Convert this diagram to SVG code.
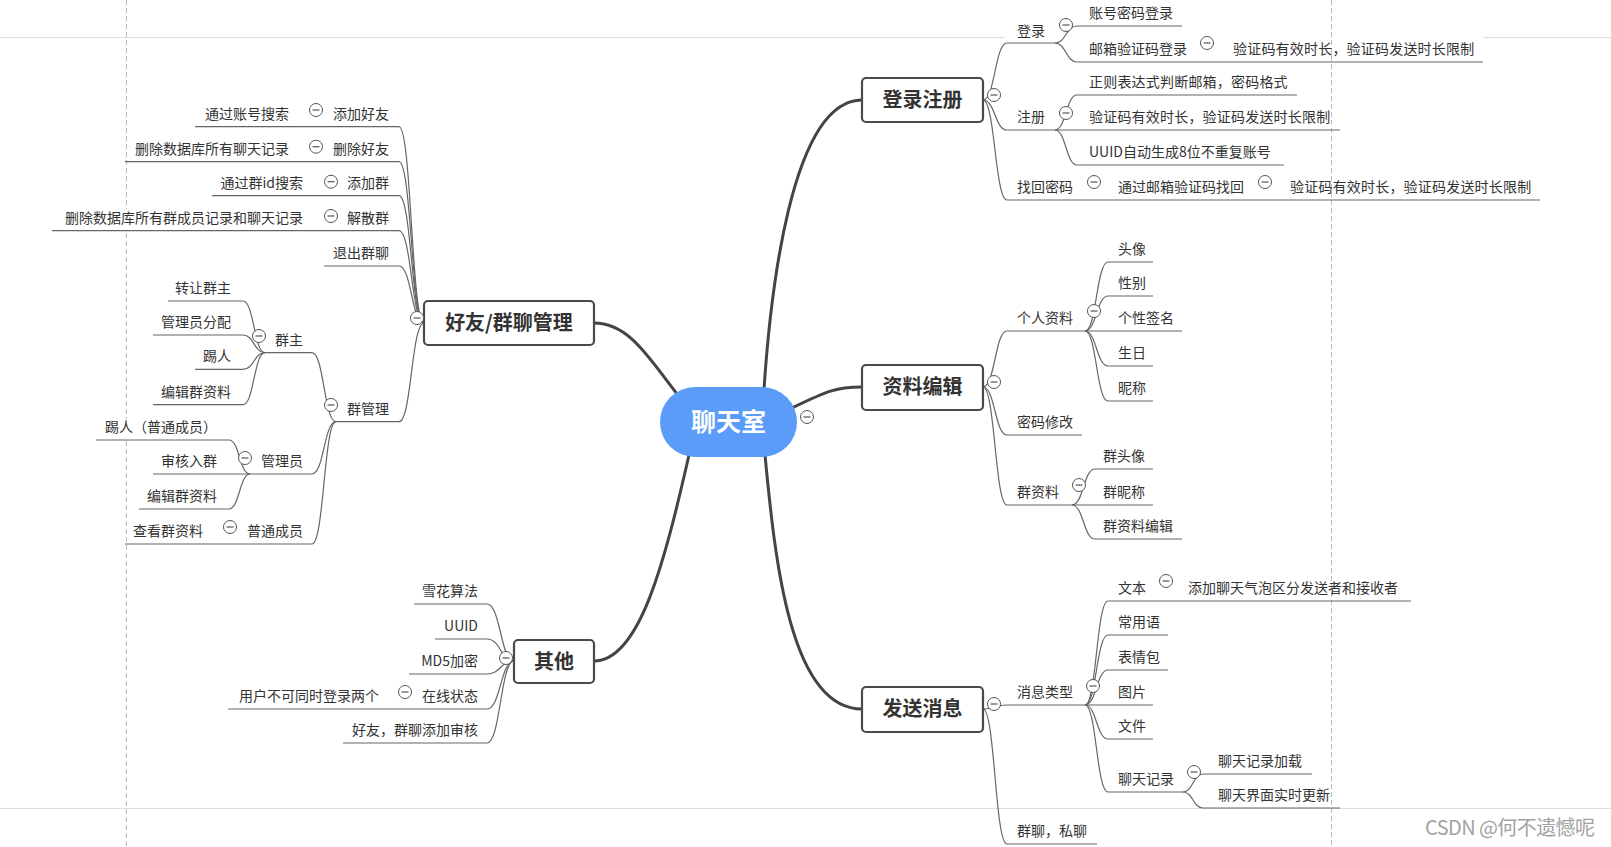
<svg xmlns="http://www.w3.org/2000/svg" width="1611" height="847" viewBox="0 0 1611 847">
<defs>
<style>
.t{font-family:"Noto Sans CJK SC","Noto Sans",sans-serif;font-size:14px;fill:#333}
.e{text-anchor:end}
.w{letter-spacing:0.2px}
.b{font-family:"Noto Sans CJK SC","Noto Sans",sans-serif;font-size:20px;font-weight:700;fill:#333;text-anchor:middle}
.box{fill:#fff;stroke:#4a4a4a;stroke-width:2.2}
.l{fill:none;stroke:#666;stroke-width:1.2}
.m{fill:none;stroke:#444;stroke-width:3;stroke-linecap:round}
.pg{stroke:#ddd;stroke-width:1;fill:none}
.pd{stroke:#bbb;stroke-width:1;stroke-dasharray:5 3;fill:none}
</style>
<g id="col"><circle r="6.5" fill="#fff" stroke="#555" stroke-width="1"/><line x1="-3.5" y1="0" x2="3.5" y2="0" stroke="#555" stroke-width="1.2"/></g>
</defs>
<rect width="1611" height="847" fill="#fff"/>
<g id="page-lines">
<path class="pg" d="M0,37.5 H1005 M1483,37.5 H1611 M0,808.5 H1611"/>
<path class="pd" d="M126.5,0 V209 M126.5,233 V419 M126.5,441 V847 M1331.5,0 V847"/>
</g>
<g id="connectors">
<path class="m" d="M764,389 C770,300 790,100 862,100"/>
<path class="m" d="M678,395 C650,360 630,323 594,323"/>
<path class="m" d="M792,408 C825,392 835,387 862,387"/>
<path class="m" d="M689,455 C665,560 640,661 594,661"/>
<path class="m" d="M765,455 C775,560 790,709 862,709"/>
<path class="l" d="M424,323 C411.5,323 411.5,126.7 399,126.7 H195"/>
<path class="l" d="M424,323 C411.5,323 411.5,161.7 399,161.7 H125"/>
<path class="l" d="M424,323 C411.5,323 411.5,195.7 399,195.7 H212"/>
<path class="l" d="M424,323 C411.5,323 411.5,230.7 399,230.7 H52"/>
<path class="l" d="M424,323 C411.5,323 411.5,266 399,266 H324"/>
<path class="l" d="M424,323 C411.5,323 411.5,421.7 399,421.7 H336"/>
<path class="l" d="M336,421.7 C324,421.7 324,352.7 312,352.7 H265"/>
<path class="l" d="M336,421.7 C324,421.7 324,474 312,474 H153"/>
<path class="l" d="M336,421.7 C324,421.7 324,544 312,544 H125"/>
<path class="l" d="M265,352.7 C254,352.7 254,301 243,301 H168"/>
<path class="l" d="M265,352.7 C254,352.7 254,335 243,335 H153"/>
<path class="l" d="M265,352.7 C254,352.7 254,369.3 243,369.3 H195"/>
<path class="l" d="M265,352.7 C254,352.7 254,404.7 243,404.7 H153"/>
<path class="l" d="M250,474 C239.5,474 239.5,440 229,440 H96"/>
<path class="l" d="M250,474 C239.5,474 239.5,509 229,509 H139"/>
<path class="l" d="M514,661 C500.5,661 500.5,604 487,604 H414"/>
<path class="l" d="M514,661 C500.5,661 500.5,639 487,639 H435"/>
<path class="l" d="M514,661 C500.5,661 500.5,674 487,674 H409"/>
<path class="l" d="M514,661 C500.5,661 500.5,709 487,709 H228"/>
<path class="l" d="M514,661 C500.5,661 500.5,743 487,743 H343"/>
<path class="l" d="M983,100 C995,100 995,43 1007,43 H1055"/>
<path class="l" d="M983,100 C995,100 995,130 1007,130 H1055"/>
<path class="l" d="M983,100 C995,100 995,200 1007,200 H1540"/>
<path class="l" d="M1055,43 C1066,43 1066,26 1077,26 H1182"/>
<path class="l" d="M1055,43 C1066,43 1066,62 1077,62 H1483"/>
<path class="l" d="M1055,130 C1066,130 1066,95 1077,95 H1297"/>
<path class="l" d="M1055,130 H1340"/>
<path class="l" d="M1055,130 C1066,130 1066,165 1077,165 H1284"/>
<path class="l" d="M983,387 C995,387 995,331 1007,331 H1085"/>
<path class="l" d="M983,387 C995,387 995,435 1007,435 H1082"/>
<path class="l" d="M983,387 C995,387 995,505 1007,505 H1072"/>
<path class="l" d="M1085,331 C1096.5,331 1096.5,262 1108,262 H1153"/>
<path class="l" d="M1085,331 C1096.5,331 1096.5,296 1108,296 H1153"/>
<path class="l" d="M1085,331 H1182"/>
<path class="l" d="M1085,331 C1096.5,331 1096.5,366 1108,366 H1153"/>
<path class="l" d="M1085,331 C1096.5,331 1096.5,401 1108,401 H1153"/>
<path class="l" d="M1072,505 C1083.5,505 1083.5,469 1095,469 H1153"/>
<path class="l" d="M1072,505 H1153"/>
<path class="l" d="M1072,505 C1083.5,505 1083.5,539 1095,539 H1182"/>
<path class="l" d="M983,709 C995,709 995,705 1007,705 H1085"/>
<path class="l" d="M983,709 C995,709 995,844 1007,844 H1097"/>
<path class="l" d="M1085,705 C1096.5,705 1096.5,601 1108,601 H1411"/>
<path class="l" d="M1085,705 C1096.5,705 1096.5,635 1108,635 H1168"/>
<path class="l" d="M1085,705 C1096.5,705 1096.5,670 1108,670 H1168"/>
<path class="l" d="M1085,705 H1153"/>
<path class="l" d="M1085,705 C1096.5,705 1096.5,739 1108,739 H1153"/>
<path class="l" d="M1085,705 C1096.5,705 1096.5,792 1108,792 H1183"/>
<path class="l" d="M1183,792 C1193,792 1193,774 1203,774 H1312"/>
<path class="l" d="M1183,792 C1193,792 1193,808 1203,808 H1340"/>
</g>
<g id="root">
<rect x="660" y="387" width="137" height="70" rx="35" fill="#5b9cf8"/>
<text x="728.5" y="431" font-family="Noto Sans CJK SC, sans-serif" font-size="25" font-weight="700" fill="#fff" text-anchor="middle">聊天室</text>
<use href="#col" x="807" y="417"/>
</g>
<g id="n-friends">
<rect class="box" x="424" y="301" width="170" height="44" rx="4"/>
<text class="b" x="509" y="330">好友/群聊管理</text>
<use href="#col" x="417" y="318"/>
</g>
<g id="n-friends-children">
<text class="t e" x="389" y="119">添加好友</text><use href="#col" x="316" y="110"/><text class="t e" x="289" y="119">通过账号搜索</text>
<text class="t e" x="389" y="154">删除好友</text><use href="#col" x="316" y="146.7"/><text class="t e" x="289" y="154">删除数据库所有聊天记录</text>
<text class="t e" x="389" y="188">添加群</text><use href="#col" x="331" y="181.7"/><text class="t e" x="303" y="188">通过群id搜索</text>
<text class="t e" x="389" y="223">解散群</text><use href="#col" x="331" y="216"/><text class="t e" x="303" y="223">删除数据库所有群成员记录和聊天记录</text>
<text class="t e" x="389" y="258">退出群聊</text>
<text class="t e" x="389" y="414">群管理</text><use href="#col" x="331" y="405"/>
<text class="t e" x="303" y="345">群主</text><use href="#col" x="259" y="336"/>
<text class="t e" x="231" y="293">转让群主</text>
<text class="t e" x="231" y="327">管理员分配</text>
<text class="t e" x="231" y="361">踢人</text>
<text class="t e" x="231" y="397">编辑群资料</text>
<text class="t e" x="303" y="466">管理员</text><use href="#col" x="245" y="458"/>
<text class="t e" x="217" y="432">踢人（普通成员）</text>
<text class="t e" x="217" y="466">审核入群</text>
<text class="t e" x="217" y="501">编辑群资料</text>
<text class="t e" x="303" y="536">普通成员</text><use href="#col" x="230" y="527"/><text class="t e" x="203" y="536">查看群资料</text>
</g>
<g id="n-other">
<rect class="box" x="514" y="640" width="80" height="43" rx="4"/>
<text class="b" x="554" y="669">其他</text>
<use href="#col" x="506" y="658"/>
<text class="t e" x="478" y="596">雪花算法</text>
<text class="t e" x="478" y="631">UUID</text>
<text class="t e" x="478" y="666">MD5加密</text>
<text class="t e" x="478" y="701">在线状态</text><use href="#col" x="405" y="692"/><text class="t e" x="379" y="701">用户不可同时登录两个</text>
<text class="t e" x="478" y="735">好友，群聊添加审核</text>
</g>
<g id="n-login">
<rect class="box" x="862" y="78" width="121" height="44" rx="4"/>
<text class="b" x="922.5" y="107">登录注册</text>
<use href="#col" x="994" y="95"/>
<text class="t" x="1017" y="36">登录</text><use href="#col" x="1066" y="25"/>
<text class="t" x="1089" y="18">账号密码登录</text>
<text class="t" x="1089" y="54">邮箱验证码登录</text><use href="#col" x="1207" y="43"/><text class="t w" x="1233" y="54">验证码有效时长，验证码发送时长限制</text>
<text class="t" x="1017" y="122">注册</text><use href="#col" x="1066" y="113"/>
<text class="t w" x="1089" y="87">正则表达式判断邮箱，密码格式</text>
<text class="t w" x="1089" y="122">验证码有效时长，验证码发送时长限制</text>
<text class="t" x="1089" y="157">UUID自动生成8位不重复账号</text>
<text class="t" x="1017" y="192">找回密码</text><use href="#col" x="1094" y="182"/>
<text class="t" x="1118" y="192">通过邮箱验证码找回</text><use href="#col" x="1265" y="182"/><text class="t w" x="1290" y="192">验证码有效时长，验证码发送时长限制</text>
</g>
<g id="n-profile">
<rect class="box" x="862" y="365" width="121" height="45" rx="4"/>
<text class="b" x="922.5" y="394">资料编辑</text>
<use href="#col" x="994" y="382"/>
<text class="t" x="1017" y="323">个人资料</text><use href="#col" x="1094" y="311"/>
<text class="t" x="1118" y="254">头像</text>
<text class="t" x="1118" y="288">性别</text>
<text class="t" x="1118" y="323">个性签名</text>
<text class="t" x="1118" y="358">生日</text>
<text class="t" x="1118" y="393">昵称</text>
<text class="t" x="1017" y="427">密码修改</text>
<text class="t" x="1017" y="497">群资料</text><use href="#col" x="1079" y="485"/>
<text class="t" x="1103" y="461">群头像</text>
<text class="t" x="1103" y="497">群昵称</text>
<text class="t" x="1103" y="531">群资料编辑</text>
</g>
<g id="n-message">
<rect class="box" x="862" y="687" width="121" height="45" rx="4"/>
<text class="b" x="922.5" y="716">发送消息</text>
<use href="#col" x="994" y="704"/>
<text class="t" x="1017" y="697">消息类型</text><use href="#col" x="1093" y="686"/>
<text class="t" x="1118" y="593">文本</text><use href="#col" x="1166" y="581"/><text class="t" x="1188" y="593">添加聊天气泡区分发送者和接收者</text>
<text class="t" x="1118" y="627">常用语</text>
<text class="t" x="1118" y="662">表情包</text>
<text class="t" x="1118" y="697">图片</text>
<text class="t" x="1118" y="731">文件</text>
<text class="t" x="1118" y="784">聊天记录</text><use href="#col" x="1194" y="772"/>
<text class="t" x="1218" y="766">聊天记录加载</text>
<text class="t" x="1218" y="800">聊天界面实时更新</text>
<text class="t" x="1017" y="836">群聊，私聊</text>
</g>
<text x="1425" y="835" font-family="Noto Sans CJK SC, sans-serif" font-size="20" fill="#a3a3a3" textLength="170">CSDN @何不遗憾呢</text>
</svg>
